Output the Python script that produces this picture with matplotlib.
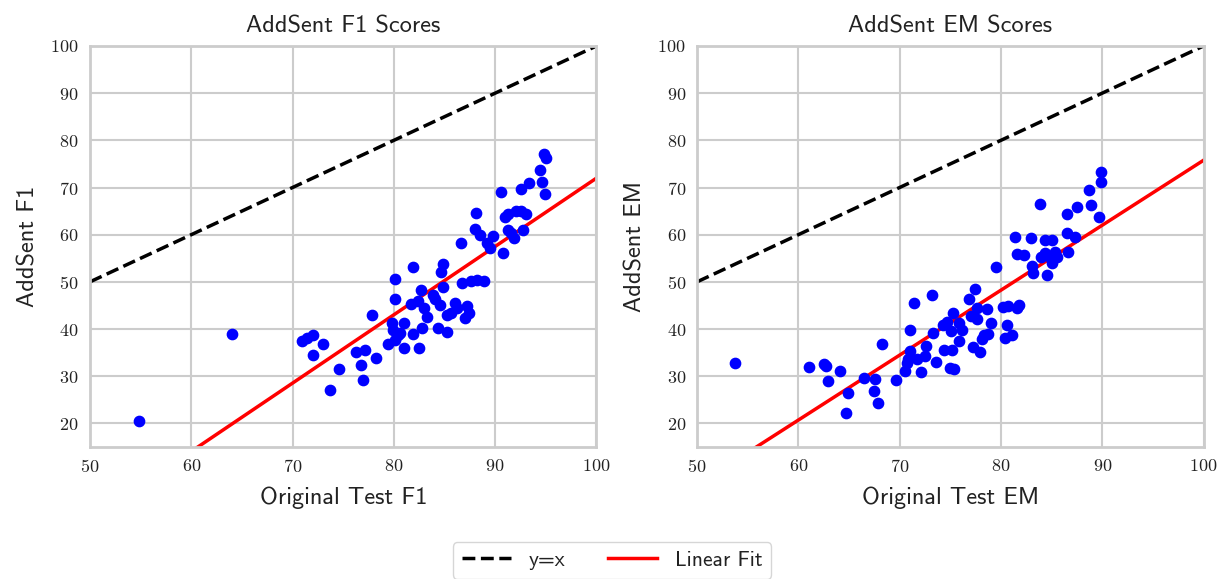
import numpy as np
import matplotlib
matplotlib.use("Agg")
import matplotlib.pyplot as plt

# AddSent F1 (original test F1 vs AddSent F1)
f1_orig = [54.8, 64.0, 70.9, 71.4, 72.0, 73.0, 72.0, 73.7, 74.6, 76.3, 77.2, 76.8, 77.0, 78.2,
           77.8, 79.4, 79.8, 79.9, 80.1, 80.4, 80.6, 80.1, 80.1, 81.0, 81.0, 81.9, 81.7, 82.4,
           82.7, 81.9, 82.8, 82.5, 83.0, 83.3, 83.9, 84.1, 84.6, 84.9, 84.7, 84.9, 84.4, 85.2,
           85.2, 85.6, 86.0, 86.2, 86.7, 86.6, 87.0, 87.2, 87.4, 87.6, 88.2, 88.9, 88.1, 88.0,
           88.5, 89.2, 89.5, 89.8, 90.8, 90.6, 91.0, 91.3, 91.3, 91.6, 91.9, 92.1, 92.6, 93.0,
           92.7, 92.6, 93.3, 94.4, 94.6, 94.9, 94.8, 95.0]
f1_adv = [20.6, 39.0, 37.4, 38.0, 38.7, 36.9, 34.4, 27.0, 31.6, 35.1, 35.5, 32.4, 29.1, 33.9,
          43.0, 36.9, 41.3, 39.9, 37.6, 38.7, 39.2, 46.3, 50.6, 41.3, 36.0, 53.2, 45.3, 46.0,
          48.3, 38.9, 40.3, 36.0, 44.5, 42.6, 47.2, 46.3, 45.1, 53.8, 52.1, 48.9, 40.3, 39.4,
          43.0, 43.5, 45.5, 44.5, 49.7, 58.2, 42.3, 44.9, 43.5, 50.2, 50.4, 50.1, 64.6, 61.1,
          59.9, 58.2, 57.1, 59.8, 56.2, 69.1, 63.8, 64.4, 61.0, 60.3, 59.4, 65.0, 65.1, 64.3,
          61.0, 69.7, 70.9, 73.8, 71.1, 68.7, 77.2, 76.3]

# AddSent EM
em_orig = [53.7, 61.1, 62.5, 62.7, 62.9, 64.1, 64.7, 64.9, 66.5, 67.6, 67.5, 67.9, 68.3, 69.6,
           70.5, 70.7, 71.0, 71.0, 70.8, 71.4, 71.7, 72.1, 72.5, 72.6, 73.2, 73.3, 73.6, 74.3,
           74.4, 74.7, 75.1, 75.2, 75.0, 75.4, 75.3, 75.9, 76.2, 75.9, 76.8, 77.4, 77.6, 77.0,
           77.6, 77.2, 77.9, 78.1, 78.3, 78.7, 78.6, 79.0, 79.5, 80.2, 80.7, 80.6, 80.4, 81.1,
           81.6, 81.8, 81.4, 81.6, 82.3, 83.0, 83.1, 83.2, 83.9, 84.0, 84.4, 85.0, 84.4, 84.5,
           84.8, 85.0, 85.3, 85.5, 86.5, 86.5, 86.6, 87.3, 87.5, 88.7, 88.9, 89.7, 89.9, 89.9]
em_adv = [32.7, 32.0, 32.5, 32.1, 29.0, 31.1, 22.2, 26.4, 29.7, 29.5, 26.9, 24.4, 36.9, 29.2,
          31.2, 32.9, 35.4, 39.9, 33.6, 45.5, 33.7, 30.8, 34.3, 36.3, 47.3, 39.2, 33.0, 40.8,
          35.6, 41.5, 39.5, 35.5, 31.8, 31.6, 43.3, 41.2, 39.8, 37.5, 46.3, 48.4, 44.5, 42.8,
          42.2, 36.2, 35.2, 37.8, 38.7, 38.9, 44.2, 41.2, 53.1, 44.7, 44.9, 40.9, 38.2, 38.7,
          44.5, 45.2, 59.5, 56.0, 55.6, 59.3, 53.3, 51.8, 66.6, 55.3, 58.8, 58.8, 56.2, 51.4,
          55.2, 54.0, 56.4, 55.3, 64.4, 60.4, 56.3, 59.5, 65.8, 69.4, 66.2, 63.7, 73.3, 71.1]

panels = [
    (f1_orig, f1_adv, "AddSent F1 Scores", "Original Test F1", "AddSent F1"),
    (em_orig, em_adv, "AddSent EM Scores", "Original Test EM", "AddSent EM"),
]

plt.rcParams["axes.formatter.use_mathtext"] = True
sans = ["cmss10", "DejaVu Sans"]
serif = ["cmr10", "DejaVu Serif"]

fig = plt.figure(figsize=(12.19, 5.79), dpi=100)
lefts = [0.0738, 0.5718]
for i, (xo, ya, title, xl, yl) in enumerate(panels):
    ax = fig.add_axes([lefts[i], 0.228, 0.4155, 0.6926])
    ax.grid(True, color="#cccccc", linewidth=1.5)
    ax.set_axisbelow(True)
    for s in ax.spines.values():
        s.set_color("#cccccc")
        s.set_linewidth(2)
    xx = np.array([50, 100])
    ax.plot(xx, xx, "k--", linewidth=2.5, label="y=x", zorder=2)
    k, b = np.polyfit(xo, ya, 1)
    ax.plot(xx, k * xx + b, color="red", linewidth=2.5, label="Linear Fit", zorder=2)
    ax.scatter(xo, ya, s=55, color="blue", zorder=3)
    ax.set_xlim(50, 100)
    ax.set_ylim(15, 100)
    ax.set_xticks(range(50, 101, 10))
    ax.set_yticks(range(20, 101, 10))
    ax.tick_params(length=0, pad=8)
    for t in ax.get_xticklabels() + ax.get_yticklabels():
        t.set_family(serif)
        t.set_fontsize(13)
        t.set_color("#222222")
    ax.set_title(title, family=sans, fontsize=17.5, color="#222222", pad=10)
    ax.set_xlabel(xl, family=sans, fontsize=17.5, color="#222222", labelpad=8)
    ax.set_ylabel(yl, family=sans, fontsize=17.5, color="#222222", labelpad=8)
    if i == 0:
        handles, labels = ax.get_legend_handles_labels()

leg = fig.legend(handles, labels, loc="upper center", bbox_to_anchor=(0.502, 0.082),
                 ncol=2, prop={"family": sans, "size": 15.5}, frameon=True,
                 columnspacing=2.0, handlelength=2.3)
leg.get_frame().set_edgecolor("#cccccc")
for t in leg.get_texts():
    t.set_color("#222222")

fig.savefig("out.png", dpi=100)
